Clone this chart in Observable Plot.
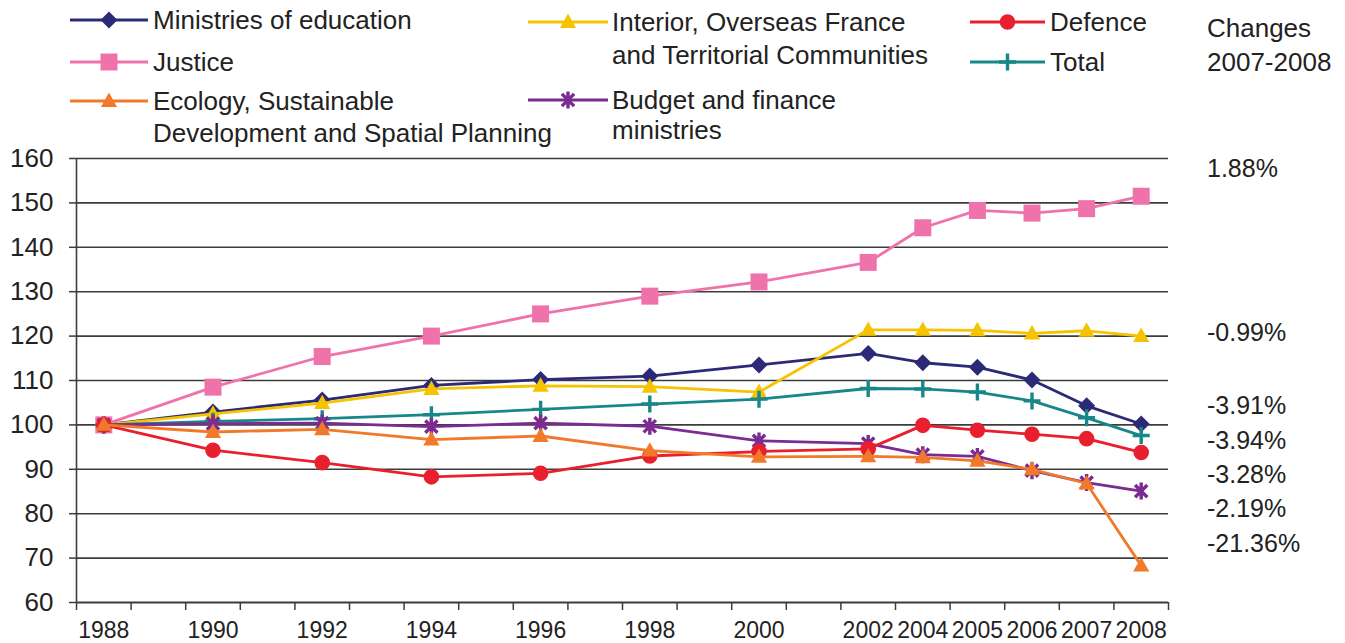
<!DOCTYPE html>
<html>
<head>
<meta charset="utf-8">
<script src="https://cdn.jsdelivr.net/npm/d3@7"></script>
<script src="https://cdn.jsdelivr.net/npm/@observablehq/plot@0.6"></script>
<style>
  html, body { margin: 0; padding: 0; background: #fff; }
  #wrap { position: relative; width: 1345px; height: 643px; font-family: "Liberation Sans", Arial, Helvetica, sans-serif; color: #222; overflow: hidden; }
  .t { position: absolute; white-space: nowrap; line-height: 30px; font-size: 26px; }
  .c { position: absolute; white-space: nowrap; line-height: 30px; font-size: 25px; }
  .sw { position: absolute; }
  #chart { position: absolute; left: 0; top: 140px; }
</style>
</head>
<body>
<div id="wrap"><div id="chart"></div></div>
<script>
// ---------- data ----------
const categories = ["1988","1989","1990","1991","1992","1993","1994","1995","1996","1997","1998","1999","2000","2001","2002","2004","2005","2006","2007","2008"];
const years = ["1988","1990","1992","1994","1996","1998","2000","2002","2004","2005","2006","2007","2008"];
const education = [100, 102.9, 105.6, 108.9, 110.2, 111.0, 113.5, 116.1, 114.0, 113.0, 110.1, 104.3, 100.2];
const justice   = [100, 108.5, 115.4, 120.0, 125.0, 129.0, 132.2, 136.6, 144.4, 148.3, 147.7, 148.7, 151.5];
const ecology   = [100, 98.4, 99.0, 96.7, 97.5, 94.2, 92.8, 92.9, 92.7, 91.9, 90.0, 86.8, 68.3];
const interior  = [100, 102.5, 104.9, 108.1, 108.8, 108.6, 107.4, 121.4, 121.4, 121.3, 120.6, 121.2, 120.0];
const budget    = [100, 100.3, 100.4, 99.6, 100.4, 99.7, 96.4, 95.8, 93.3, 92.9, 89.7, 87.0, 85.1];
const defence   = [100, 94.3, 91.5, 88.3, 89.1, 93.0, 94.0, 94.6, 99.9, 98.8, 97.9, 96.9, 93.8];
const total     = [100, 100.8, 101.4, 102.3, 103.5, 104.7, 105.8, 108.2, 108.1, 107.4, 105.4, 101.6, 97.6];
const changes = ["1.88%", "-0.99%", "-3.91%", "-3.94%", "-3.28%", "-2.19%", "-21.36%"];
const yTicks = [60, 70, 80, 90, 100, 110, 120, 130, 140, 150, 160];

// ---------- symbols ----------
const rOf = size => Math.sqrt(size / Math.PI);
const symDiamond = {draw(c, s){const r = rOf(s); c.moveTo(0,-r); c.lineTo(r,0); c.lineTo(0,r); c.lineTo(-r,0); c.closePath();}};
const symSquare  = {draw(c, s){const r = rOf(s); c.rect(-r,-r,2*r,2*r);}};
const symTri     = {draw(c, s){const r = rOf(s); c.moveTo(0,-r); c.lineTo(r*0.95,r*0.7); c.lineTo(-r*0.95,r*0.7); c.closePath();}};
const symPlus    = {draw(c, s){const r = rOf(s); c.moveTo(-r,0); c.lineTo(r,0); c.moveTo(0,-r); c.lineTo(0,r);}};
const symStar    = {draw(c, s){const r = rOf(s), d = r*0.72; c.moveTo(0,-r); c.lineTo(0,r); c.moveTo(-d,-d); c.lineTo(d,d); c.moveTo(-d,d); c.lineTo(d,-d);}};
const symCircle  = d3.symbolCircle;

// series (drawing order)
const series = [
  {name: "Ministries of education", values: education, color: "#2c2a77", sym: symDiamond, r: 8.5, filled: true},
  {name: "Justice", values: justice, color: "#ef72ab", sym: symSquare, r: 8.5, filled: true},
  {name: "Interior, Overseas France and Territorial Communities", values: interior, color: "#f5c300", sym: symTri, r: 8.5, filled: true},
  {name: "Total", values: total, color: "#17878a", sym: symPlus, r: 8.5, filled: false},
  {name: "Budget and finance ministries", values: budget, color: "#7b2c90", sym: symStar, r: 8.5, filled: false},
  {name: "Defence", values: defence, color: "#e8202e", sym: symCircle, r: 7.8, filled: true},
  {name: "Ecology, Sustainable Development and Spatial Planning", values: ecology, color: "#f07a2a", sym: symTri, r: 8.5, filled: true}
];

const xOf = y => categories.indexOf(y) + 0.5;

const seriesMarks = series.flatMap(s => {
  const rows = years.map((yr, i) => ({x: xOf(yr), v: s.values[i]}));
  return [
    Plot.line(rows, {x: "x", y: "v", stroke: s.color, strokeWidth: 2.8}),
    Plot.dot(rows, {x: "x", y: "v", symbol: () => s.sym, r: s.r,
      fill: s.filled ? s.color : "none", stroke: s.filled ? "none" : s.color, strokeWidth: s.filled ? 0 : 3.4})
  ];
});

const plot = Plot.plot({
  width: 1345,
  height: 503,
  marginLeft: 76,
  marginRight: 177,
  marginTop: 18,
  marginBottom: 41,
  x: {type: "linear", domain: [0, categories.length]},
  y: {domain: [60, 160]},
  style: {fontFamily: "'Liberation Sans', Arial, Helvetica, sans-serif", color: "#222", background: "white", overflow: "visible"},
  marks: [
    Plot.ruleY(yTicks.slice(1), {stroke: "#3c3c3c", strokeWidth: 1.6}),
    Plot.axisY({ticks: yTicks, tickSize: 7, tickPadding: 16, fontSize: 26, tickFormat: d => String(d), label: null, stroke: "#3c3c3c", strokeWidth: 1.5}),
    Plot.ruleX([0], {stroke: "#3c3c3c", strokeWidth: 1.6}),
    Plot.ruleY([60], {stroke: "#3c3c3c", strokeWidth: 1.8}),
    Plot.axisX({ticks: d3.range(categories.length + 1), tickSize: 8, tickFormat: () => "", label: null, stroke: "#3c3c3c", strokeWidth: 1.5}),
    Plot.axisX({ticks: years.map(xOf), tickSize: 0, tickPadding: 19, fontSize: 23, tickFormat: v => categories[Math.floor(v)], label: null}),
    ...seriesMarks
  ]
});
document.getElementById("chart").appendChild(plot);

// ---------- legend (HTML above/around the svg) ----------
const wrap = document.getElementById("wrap");
function symPath(sym, r) { const p = d3.path(); sym.draw(p, r * r * Math.PI); return p.toString(); }
function swatch(s, x1, x2, cy) {
  const w = x2 - x1, mid = w / 2;
  const el = document.createElement("div");
  el.className = "sw";
  el.style.left = x1 + "px"; el.style.top = (cy - 12) + "px";
  el.innerHTML = `<svg width="${w}" height="24"><line x1="0" x2="${w}" y1="12" y2="12" stroke="${s.color}" stroke-width="3.2"/>` +
    `<path transform="translate(${mid},12)" d="${symPath(s.sym, s.r)}" fill="${s.filled ? s.color : "none"}" stroke="${s.filled ? "none" : s.color}" stroke-width="3.4"/></svg>`;
  wrap.appendChild(el);
}
function text(str, x, cy, cls) {
  const el = document.createElement("div");
  el.className = cls || "t";
  el.style.left = x + "px"; el.style.top = (cy - 15) + "px";
  el.textContent = str;
  wrap.appendChild(el);
}
const byName = n => series.find(s => s.name.startsWith(n));
// column 1
swatch(byName("Ministries"), 70, 148, 20); text("Ministries of education", 153, 20);
swatch(byName("Justice"), 70, 148, 62); text("Justice", 153, 62);
swatch(byName("Ecology"), 70, 148, 101); text("Ecology, Sustainable", 153, 101); text("Development and Spatial Planning", 153, 133);
// column 2
swatch(byName("Interior"), 528, 608, 22); text("Interior, Overseas France", 612, 22); text("and Territorial Communities", 612, 55);
swatch(byName("Budget"), 528, 608, 100); text("Budget and finance", 612, 100); text("ministries", 612, 130);
// column 3
swatch(byName("Defence"), 970, 1045, 22); text("Defence", 1050, 22);
swatch(byName("Total"), 970, 1045, 62); text("Total", 1050, 62);
// changes column
text("Changes", 1207, 28); text("2007-2008", 1207, 62);
const changeY = [168, 332, 405, 440, 474, 508, 543];
changes.forEach((c, i) => text(c, 1207, changeY[i], "c"));
</script>
</body>
</html>
